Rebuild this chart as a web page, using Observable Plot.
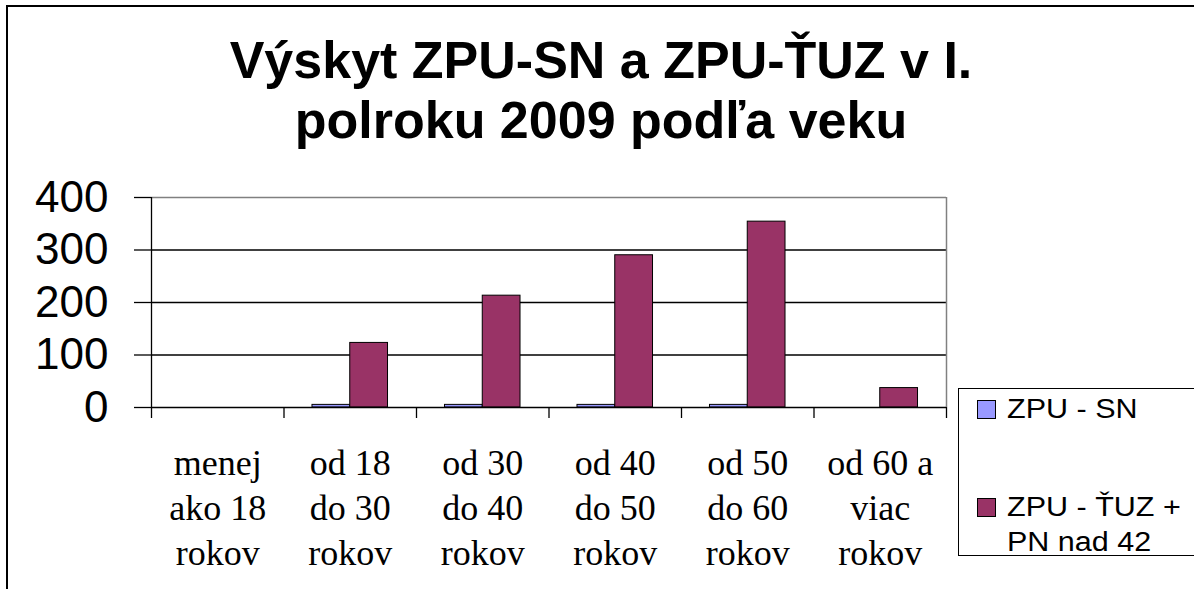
<!DOCTYPE html>
<html>
<head>
<meta charset="utf-8">
<script src="https://cdn.jsdelivr.net/npm/d3@7"></script>
<script src="https://cdn.jsdelivr.net/npm/@observablehq/plot@0.6"></script>
<style>
  html, body { margin: 0; background: #fff; overflow: hidden; }
  #wrap { position: relative; width: 1194px; height: 589px; overflow: hidden; background: #fff; }
  #frame { position: absolute; left: 6px; top: 5px; width: 1400px; height: 800px; border-left: 2px solid #000; border-top: 2px solid #000; }
  #title { position: absolute; left: 0; top: 30px; width: 1202px; text-align: center;
           font: bold 52px "Liberation Sans", Arial, sans-serif; line-height: 60px; color: #000; }
  #chart { position: absolute; left: 0; top: 160px; }
  #legend { position: absolute; left: 958px; top: 388px; width: 400px; height: 166px;
            border: 1.5px solid #000; border-right: none; background: #fff; font: 27px "Liberation Sans", Arial, sans-serif; color: #000; }
  .item { position: absolute; left: 47.5px; width: 165px; line-height: 35px; transform: scaleX(1.13); transform-origin: 0 0; }
  .sw { position: absolute; width: 17px; height: 17px; border: 1px solid #000; left: 17.5px; }
</style>
</head>
<body>
<div id="wrap">
  <div id="frame"></div>
  <div id="title">Výskyt ZPU-SN a ZPU-ŤUZ v I.<br>polroku 2009 podľa veku</div>
  <div id="chart"></div>
  <div id="legend"></div>
</div>
<script>
const ageLabels = [
  "menej\nako 18\nrokov",
  "od 18\ndo 30\nrokov",
  "od 30\ndo 40\nrokov",
  "od 40\ndo 50\nrokov",
  "od 50\ndo 60\nrokov",
  "od 60 a\nviac\nrokov"
];
const seriesNames = ["ZPU - SN", "ZPU - ŤUZ + PN nad 42"];
const snValues = [0, 5, 5, 5, 5, 0];
const tuzValues = [0, 123, 213, 290, 354, 37];
const yTicks = [0, 100, 200, 300, 400];
const seriesColors = ["#9999FF", "#993366"];

const rows = [];
ageLabels.forEach((label, i) => {
  rows.push({i, series: seriesNames[0], k: 0, value: snValues[i]});
  rows.push({i, series: seriesNames[1], k: 1, value: tuzValues[i]});
});
const bars = rows.filter(d => d.value > 0);
const boundaries = d3.range(ageLabels.length + 1);
const labelRows = ageLabels.map((l, i) => ({i, l}));

const slot = [[0.215, 0.5], [0.5, 0.785]];

const chart = Plot.plot({
  width: 1194,
  height: 429,
  marginLeft: 151,
  marginRight: 248,
  marginTop: 37,
  marginBottom: 182,
  style: {background: "transparent", color: "#000", overflow: "visible"},
  x: {type: "linear", domain: [0, ageLabels.length], label: null},
  y: {domain: [0, 400], label: null},
  color: {domain: seriesNames, range: seriesColors},
  marks: [
    Plot.ruleY(yTicks.slice(1, -1), {stroke: "#000", strokeWidth: 1.3}),
    Plot.ruleY(yTicks.slice(-1), {stroke: "#808080", strokeWidth: 1.3}),
    Plot.ruleX([ageLabels.length], {y1: 0, y2: 400, stroke: "#808080", strokeWidth: 1.5}),
    Plot.rectY(bars, {
      x1: d => d.i + slot[d.k][0],
      x2: d => d.i + slot[d.k][1],
      y1: 0, y2: "value",
      fill: "series", stroke: "#000", strokeWidth: 1
    }),
    Plot.ruleY([0], {stroke: "#000", strokeWidth: 1.3}),
    Plot.ruleX([0], {y1: 0, y2: 400, stroke: "#000", strokeWidth: 1.3}),
    Plot.axisX(boundaries, {tickSize: 11, tickFormat: () => "", strokeWidth: 1.3, label: null}),
    Plot.axisY(yTicks, {tickSize: 17, tickPadding: 26, fontSize: 44, fontFamily: "Liberation Sans, Arial, sans-serif", strokeWidth: 1.3, label: null}),
    Plot.text(labelRows, {
      x: d => d.i + 0.5, y: 0, text: "l",
      lineAnchor: "top", dy: 36, lineHeight: 1.25,
      fontSize: 36, fontFamily: "Liberation Serif, Times New Roman, serif", fill: "#000"
    })
  ]
});
document.getElementById("chart").appendChild(chart);

// legend
const legend = document.getElementById("legend");
const itemTops = [2.5, 100.5];
const swTops = [10.5, 108.5];
seriesNames.forEach((name, k) => {
  const sw = document.createElement("div");
  sw.className = "sw";
  sw.style.top = swTops[k] + "px";
  sw.style.background = seriesColors[k];
  legend.appendChild(sw);
  const t = document.createElement("div");
  t.className = "item";
  t.style.top = itemTops[k] + "px";
  t.textContent = name;
  legend.appendChild(t);
});
</script>
</body>
</html>
